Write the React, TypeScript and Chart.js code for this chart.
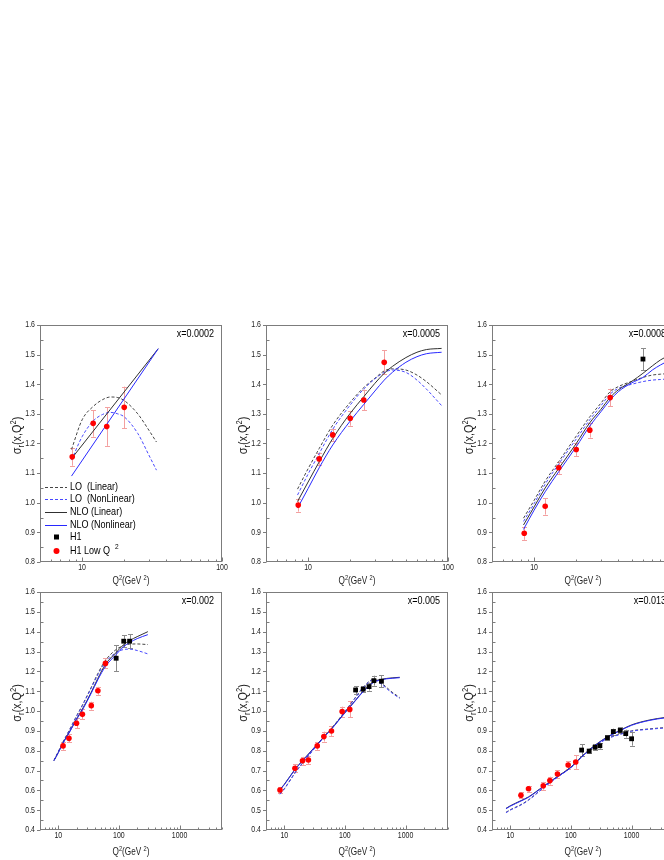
import React, { useEffect, useRef } from "react";
import { Chart, registerables } from "chart.js";
Chart.register(...registerables);

// ---------------- DATA ----------------
// Panel 1: x = 0.0002
const P1_LO_GRID = [8.4, 10, 12, 14, 16, 18, 20, 25, 30, 34];
const P1_LO_LIN = [1.18, 1.28, 1.325, 1.348, 1.357, 1.355, 1.345, 1.3, 1.245, 1.205];
const P1_LO_NON = [1.144, 1.223, 1.276, 1.298, 1.305, 1.3, 1.29, 1.234, 1.161, 1.11];
const P1_NLO_LIN_GRID = [8.6, 35];
const P1_NLO_LIN = [1.155, 1.52];
const P1_NLO_NON_GRID = [8.4, 35];
const P1_NLO_NON = [1.09, 1.52];
const P1_LOWQ_Q2 = [8.5, 12, 15, 20];
const P1_LOWQ_VAL = [1.155, 1.268, 1.257, 1.322];
const P1_LOWQ_ERR = [0.03, 0.045, 0.065, 0.07];
const P1_H1_Q2: number[] = [];
const P1_H1_VAL: number[] = [];
const P1_H1_ERR: number[] = [];

// Panel 2: x = 0.0005
const P2_GRID = [8.4, 10, 12, 15, 20, 25, 30, 35, 40, 50, 60, 70, 90];
const P2_NLO_LIN = [1.004, 1.07, 1.138, 1.217, 1.302, 1.358, 1.403, 1.437, 1.46, 1.49, 1.508, 1.517, 1.521];
const P2_NLO_NON = [0.982, 1.048, 1.118, 1.195, 1.276, 1.332, 1.377, 1.414, 1.44, 1.474, 1.493, 1.503, 1.508];
const P2_LO_LIN = [1.046, 1.115, 1.183, 1.262, 1.339, 1.389, 1.42, 1.445, 1.452, 1.448, 1.431, 1.409, 1.364];
const P2_LO_NON = [1.026, 1.097, 1.166, 1.248, 1.33, 1.384, 1.418, 1.44, 1.448, 1.44, 1.414, 1.384, 1.328];
const P2_LOWQ_Q2 = [8.5, 12, 15, 20, 25, 35];
const P2_LOWQ_VAL = [0.992, 1.148, 1.229, 1.285, 1.347, 1.474];
const P2_LOWQ_ERR = [0.022, 0.02, 0.02, 0.025, 0.035, 0.04];
const P2_H1_Q2: number[] = [];
const P2_H1_VAL: number[] = [];
const P2_H1_ERR: number[] = [];

// Panel 3: x = 0.0008
const P3_GRID = [8.4, 10, 12, 15, 20, 25, 30, 35, 40, 50, 60, 70, 80, 90];
const P3_NLO_LIN = [0.925, 0.986, 1.05, 1.116, 1.2, 1.27, 1.315, 1.356, 1.381, 1.41, 1.437, 1.462, 1.482, 1.495];
const P3_NLO_NON = [0.91, 0.975, 1.037, 1.105, 1.189, 1.259, 1.307, 1.347, 1.375, 1.405, 1.423, 1.448, 1.465, 1.478];
const P3_LO_LIN = [0.948, 1.008, 1.073, 1.139, 1.225, 1.29, 1.336, 1.375, 1.392, 1.41, 1.423, 1.431, 1.434, 1.436];
const P3_LO_NON = [0.937, 0.997, 1.063, 1.131, 1.215, 1.28, 1.327, 1.367, 1.386, 1.4, 1.409, 1.414, 1.416, 1.418];
const P3_LOWQ_Q2 = [8.5, 12, 15, 20, 25, 35];
const P3_LOWQ_VAL = [0.897, 0.988, 1.118, 1.18, 1.245, 1.355];
const P3_LOWQ_ERR = [0.022, 0.028, 0.02, 0.022, 0.025, 0.03];
const P3_H1_Q2 = [60];
const P3_H1_VAL = [1.485];
const P3_H1_ERR = [0.037];

// Panel 4: x = 0.002
const P4_GRID = [8.5, 10, 12, 15, 20, 25, 35, 45, 60, 90, 120, 150, 200, 300];
const P4_NLO_LIN = [0.75, 0.79, 0.84, 0.89, 0.96, 1.01, 1.095, 1.165, 1.235, 1.295, 1.335, 1.355, 1.375, 1.4];
const P4_NLO_NON = [0.75, 0.79, 0.838, 0.888, 0.957, 1.005, 1.09, 1.158, 1.225, 1.285, 1.325, 1.345, 1.365, 1.385];
const P4_LO_LIN = [0.752, 0.795, 0.845, 0.9, 0.975, 1.03, 1.12, 1.19, 1.255, 1.31, 1.33, 1.337, 1.338, 1.335];
const P4_LO_NON = [0.75, 0.793, 0.843, 0.898, 0.972, 1.027, 1.115, 1.183, 1.245, 1.295, 1.31, 1.312, 1.305, 1.288];
const P4_LOWQ_Q2 = [12, 15, 20, 25, 35, 45, 60];
const P4_LOWQ_VAL = [0.824, 0.862, 0.938, 0.983, 1.027, 1.102, 1.24];
const P4_LOWQ_ERR = [0.02, 0.02, 0.025, 0.025, 0.02, 0.02, 0.025];
const P4_H1_Q2 = [90, 120, 150];
const P4_H1_VAL = [1.266, 1.352, 1.352];
const P4_H1_ERR = [0.065, 0.03, 0.035];

// Panel 5: x = 0.005
const P5_GRID = [8.5, 10, 15, 20, 30, 45, 60, 90, 120, 150, 200, 300, 400, 600, 800];
const P5_NLO_LIN = [0.605, 0.63, 0.706, 0.75, 0.81, 0.87, 0.91, 0.976, 1.02, 1.055, 1.1, 1.148, 1.16, 1.167, 1.17];
const P5_NLO_NON = [0.603, 0.628, 0.704, 0.748, 0.808, 0.868, 0.908, 0.974, 1.018, 1.053, 1.098, 1.145, 1.158, 1.165, 1.168];
const P5_LO_LIN = [0.582, 0.608, 0.688, 0.738, 0.805, 0.87, 0.912, 0.98, 1.03, 1.07, 1.12, 1.16, 1.14, 1.095, 1.068];
const P5_LO_NON = [0.58, 0.606, 0.686, 0.736, 0.803, 0.868, 0.91, 0.978, 1.028, 1.068, 1.118, 1.158, 1.135, 1.09, 1.064];
const P5_LOWQ_Q2 = [8.5, 15, 20, 25, 35, 45, 60, 90, 120];
const P5_LOWQ_VAL = [0.602, 0.711, 0.749, 0.753, 0.824, 0.871, 0.899, 0.997, 1.008];
const P5_LOWQ_ERR = [0.015, 0.02, 0.02, 0.02, 0.02, 0.025, 0.025, 0.025, 0.04];
const P5_H1_Q2 = [150, 200, 250, 300, 400];
const P5_H1_VAL = [1.106, 1.11, 1.123, 1.153, 1.15];
const P5_H1_ERR = [0.02, 0.015, 0.02, 0.025, 0.03];

// Panel 6: x = 0.013
const P6_GRID = [8.5, 10, 15, 20, 35, 60, 100, 150, 250, 400, 650, 1000, 2000, 3500, 5000];
const P6_NLO_LIN = [0.509, 0.522, 0.548, 0.567, 0.62, 0.67, 0.717, 0.77, 0.828, 0.87, 0.903, 0.93, 0.955, 0.967, 0.972];
const P6_NLO_NON = [0.507, 0.52, 0.546, 0.565, 0.618, 0.668, 0.715, 0.768, 0.826, 0.868, 0.901, 0.928, 0.953, 0.965, 0.97];
const P6_LO_LIN = [0.489, 0.502, 0.528, 0.552, 0.613, 0.668, 0.717, 0.77, 0.826, 0.862, 0.884, 0.9, 0.91, 0.916, 0.918];
const P6_LO_NON = [0.487, 0.5, 0.526, 0.55, 0.611, 0.666, 0.715, 0.768, 0.824, 0.86, 0.882, 0.898, 0.908, 0.914, 0.916];
const P6_LOWQ_Q2 = [15, 20, 35, 45, 60, 90, 120];
const P6_LOWQ_VAL = [0.575, 0.608, 0.623, 0.649, 0.682, 0.728, 0.743];
const P6_LOWQ_ERR = [0.015, 0.015, 0.02, 0.02, 0.02, 0.02, 0.035];
const P6_H1_Q2 = [150, 200, 250, 300, 400, 500, 650, 800, 1000];
const P6_H1_VAL = [0.803, 0.798, 0.817, 0.825, 0.865, 0.896, 0.902, 0.886, 0.86];
const P6_H1_ERR = [0.03, 0.012, 0.015, 0.015, 0.012, 0.015, 0.015, 0.02, 0.035];

const TOP_X_TICKS = [10, 100];
const BOTTOM_X_TICKS = [10, 100, 1000];
const LEGEND_LABELS = ["LO  (Linear)", "LO  (NonLinear)", "NLO (Linear)", "NLO (Nonlinear)", "H1", "H1 Low Q"];

// ---------------- STYLE ----------------
const SANS = "'Liberation Sans', Arial, sans-serif";
const NARROW_X = 0.82;
const C_LO_LIN = "#454545";
const C_LO_NON = "#4848ff";
const C_NLO_LIN = "#303030";
const C_NLO_NON = "#2828ff";
const C_RED = "#ff0000";
const C_RED_ERR = "#f3a0a0";
const C_H1 = "#000000";
const C_H1_ERR = "#8a8a8a";
const C_FRAME = "#7c7c7c";
const C_TEXT = "#222222";
const DASH = [3, 2];

const Y_AXIS_W = 40;
const PAD_T = 12;
const PAD_R = 16;
const X_AXIS_H = 32;

type Curve = { grid: number[]; vals: number[]; color: string; dash: number[]; label: string };
type PanelDef = {
  label: string;
  L: number; T: number; R: number; B: number;
  xMin: number; xMax: number; xTicks: number[];
  yMin: number; yMax: number;
  curves: Curve[];
  lowQ2: number[]; lowVal: number[]; lowErr: number[];
  h1Q2: number[]; h1Val: number[]; h1Err: number[];
  legend: boolean;
  titleOff: number;
};

function curves(loLinG: number[], loLin: number[], loNonG: number[], loNon: number[], nloLinG: number[], nloLin: number[], nloNonG: number[], nloNon: number[]): Curve[] {
  return [
    { grid: nloNonG, vals: nloNon, color: C_NLO_NON, dash: [], label: "NLO (Nonlinear)" },
    { grid: nloLinG, vals: nloLin, color: C_NLO_LIN, dash: [], label: "NLO (Linear)" },
    { grid: loNonG, vals: loNon, color: C_LO_NON, dash: DASH, label: "LO  (NonLinear)" },
    { grid: loLinG, vals: loLin, color: C_LO_LIN, dash: DASH, label: "LO  (Linear)" },
  ];
}

const PANELS: PanelDef[] = [
  {
    label: "x=0.0002", L: 40, T: 325, R: 222, B: 562, xMin: 5, xMax: 100, xTicks: TOP_X_TICKS, yMin: 0.8, yMax: 1.6,
    curves: curves(P1_LO_GRID, P1_LO_LIN, P1_LO_GRID, P1_LO_NON, P1_NLO_LIN_GRID, P1_NLO_LIN, P1_NLO_NON_GRID, P1_NLO_NON),
    lowQ2: P1_LOWQ_Q2, lowVal: P1_LOWQ_VAL, lowErr: P1_LOWQ_ERR, h1Q2: P1_H1_Q2, h1Val: P1_H1_VAL, h1Err: P1_H1_ERR,
    legend: true, titleOff: 18,
  },
  {
    label: "x=0.0005", L: 266, T: 325, R: 448, B: 562, xMin: 5, xMax: 100, xTicks: TOP_X_TICKS, yMin: 0.8, yMax: 1.6,
    curves: curves(P2_GRID, P2_LO_LIN, P2_GRID, P2_LO_NON, P2_GRID, P2_NLO_LIN, P2_GRID, P2_NLO_NON),
    lowQ2: P2_LOWQ_Q2, lowVal: P2_LOWQ_VAL, lowErr: P2_LOWQ_ERR, h1Q2: P2_H1_Q2, h1Val: P2_H1_VAL, h1Err: P2_H1_ERR,
    legend: false, titleOff: 18,
  },
  {
    label: "x=0.0008", L: 492, T: 325, R: 674, B: 562, xMin: 5, xMax: 100, xTicks: TOP_X_TICKS, yMin: 0.8, yMax: 1.6,
    curves: curves(P3_GRID, P3_LO_LIN, P3_GRID, P3_LO_NON, P3_GRID, P3_NLO_LIN, P3_GRID, P3_NLO_NON),
    lowQ2: P3_LOWQ_Q2, lowVal: P3_LOWQ_VAL, lowErr: P3_LOWQ_ERR, h1Q2: P3_H1_Q2, h1Val: P3_H1_VAL, h1Err: P3_H1_ERR,
    legend: false, titleOff: 18,
  },
  {
    label: "x=0.002", L: 40, T: 592, R: 222, B: 830, xMin: 5, xMax: 5000, xTicks: BOTTOM_X_TICKS, yMin: 0.4, yMax: 1.6,
    curves: curves(P4_GRID, P4_LO_LIN, P4_GRID, P4_LO_NON, P4_GRID, P4_NLO_LIN, P4_GRID, P4_NLO_NON),
    lowQ2: P4_LOWQ_Q2, lowVal: P4_LOWQ_VAL, lowErr: P4_LOWQ_ERR, h1Q2: P4_H1_Q2, h1Val: P4_H1_VAL, h1Err: P4_H1_ERR,
    legend: false, titleOff: 21,
  },
  {
    label: "x=0.005", L: 266, T: 592, R: 448, B: 830, xMin: 5, xMax: 5000, xTicks: BOTTOM_X_TICKS, yMin: 0.4, yMax: 1.6,
    curves: curves(P5_GRID, P5_LO_LIN, P5_GRID, P5_LO_NON, P5_GRID, P5_NLO_LIN, P5_GRID, P5_NLO_NON),
    lowQ2: P5_LOWQ_Q2, lowVal: P5_LOWQ_VAL, lowErr: P5_LOWQ_ERR, h1Q2: P5_H1_Q2, h1Val: P5_H1_VAL, h1Err: P5_H1_ERR,
    legend: false, titleOff: 21,
  },
  {
    label: "x=0.013", L: 492, T: 592, R: 674, B: 830, xMin: 5, xMax: 5000, xTicks: BOTTOM_X_TICKS, yMin: 0.4, yMax: 1.6,
    curves: curves(P6_GRID, P6_LO_LIN, P6_GRID, P6_LO_NON, P6_GRID, P6_NLO_LIN, P6_GRID, P6_NLO_NON),
    lowQ2: P6_LOWQ_Q2, lowVal: P6_LOWQ_VAL, lowErr: P6_LOWQ_ERR, h1Q2: P6_H1_Q2, h1Val: P6_H1_VAL, h1Err: P6_H1_ERR,
    legend: false, titleOff: 21,
  },
];

// ---------------- DRAW HELPERS ----------------
type Piece = { t: string; size: number; dy: number };

// draws horizontally condensed text (the reference uses a narrow sans face)
function narrowText(ctx: CanvasRenderingContext2D, t: string, x: number, y: number, size: number, align: CanvasTextAlign, baseline: CanvasTextBaseline) {
  ctx.save();
  ctx.translate(x, y);
  ctx.scale(NARROW_X, 1);
  ctx.font = `${size}px ${SANS}`;
  ctx.textAlign = align;
  ctx.textBaseline = baseline;
  ctx.fillText(t, 0, 0);
  ctx.restore();
}

function drawPieces(ctx: CanvasRenderingContext2D, pieces: Piece[], cx: number, cy: number, sx: number) {
  ctx.save();
  ctx.translate(cx, cy);
  ctx.scale(sx, 1);
  let total = 0;
  const widths = pieces.map((p) => {
    ctx.font = `${p.size}px ${SANS}`;
    const w = ctx.measureText(p.t).width;
    total += w;
    return w;
  });
  let x = -total / 2;
  ctx.textAlign = "left";
  ctx.textBaseline = "alphabetic";
  pieces.forEach((p, i) => {
    ctx.font = `${p.size}px ${SANS}`;
    ctx.fillText(p.t, x, p.dy);
    x += widths[i];
  });
  ctx.restore();
}

function makeDeco(p: PanelDef) {
  return {
    id: "deco",
    beforeDatasetsDraw(chart: any) {
      const { ctx, scales } = chart;
      const xs = scales.x;
      const ys = scales.y;
      ctx.save();
      ctx.lineWidth = 1;
      const bars = (qs: number[], vs: number[], es: number[], color: string) => {
        ctx.strokeStyle = color;
        qs.forEach((q, i) => {
          const px = Math.round(xs.getPixelForValue(q)) + 0.5;
          const y1 = ys.getPixelForValue(vs[i] - es[i]);
          const y2 = ys.getPixelForValue(vs[i] + es[i]);
          ctx.beginPath();
          ctx.moveTo(px, y1);
          ctx.lineTo(px, y2);
          ctx.moveTo(px - 2.5, Math.round(y1) + 0.5);
          ctx.lineTo(px + 2.5, Math.round(y1) + 0.5);
          ctx.moveTo(px - 2.5, Math.round(y2) + 0.5);
          ctx.lineTo(px + 2.5, Math.round(y2) + 0.5);
          ctx.stroke();
        });
      };
      bars(p.h1Q2, p.h1Val, p.h1Err, C_H1_ERR);
      bars(p.lowQ2, p.lowVal, p.lowErr, C_RED_ERR);
      ctx.restore();
    },
    afterDraw(chart: any) {
      const { ctx, chartArea: a, scales } = chart;
      const xs = scales.x;
      const ys = scales.y;
      ctx.save();
      // frame
      ctx.strokeStyle = C_FRAME;
      ctx.lineWidth = 1;
      ctx.strokeRect(a.left + 0.5, a.top + 0.5, a.right - a.left - 1, a.bottom - a.top - 1);
      // y ticks
      ctx.beginPath();
      const nY = Math.round((p.yMax - p.yMin) / 0.1);
      for (let i = 0; i <= nY; i++) {
        const py = Math.round(ys.getPixelForValue(p.yMin + i * 0.1)) + 0.5;
        ctx.moveTo(a.left - 3, py);
        ctx.lineTo(a.left + 0.5, py);
        if (i < nY) {
          const pm = Math.round(ys.getPixelForValue(p.yMin + i * 0.1 + 0.05)) + 0.5;
          ctx.moveTo(a.left + 0.5, pm);
          ctx.lineTo(a.left + 3.5, pm);
        }
      }
      // x ticks
      const bottom = a.bottom - 0.5;
      for (let d = 0; d <= 4; d++) {
        for (let k = 1; k <= 9; k++) {
          const v = k * Math.pow(10, d);
          if (v < p.xMin || v > p.xMax) continue;
          const px = Math.round(xs.getPixelForValue(v)) + 0.5;
          const len = k === 1 ? 4 : 2;
          ctx.moveTo(px, bottom);
          ctx.lineTo(px, bottom - len);
        }
      }
      ctx.stroke();

      // tick labels from the chart scales
      ctx.fillStyle = C_TEXT;
      ys.ticks.forEach((t: any) => {
        const py = ys.getPixelForValue(t.value);
        narrowText(ctx, Number(t.value).toFixed(1), a.left - 5, py, 8.5, "right", "middle");
      });
      xs.ticks.forEach((t: any) => {
        const px = xs.getPixelForValue(t.value);
        narrowText(ctx, String(t.value), px, a.bottom + 6, 8.5, "center", "middle");
      });

      // panel label
      ctx.fillStyle = "#000";
      narrowText(ctx, p.label, a.right - 8, a.top + 9, 11, "right", "middle");

      // x title
      ctx.fillStyle = C_TEXT;
      drawPieces(
        ctx,
        [
          { t: "Q", size: 10, dy: 0 },
          { t: "2", size: 7, dy: -4 },
          { t: "(GeV ", size: 10, dy: 0 },
          { t: "2", size: 7, dy: -4 },
          { t: ")", size: 10, dy: 0 },
        ],
        (a.left + a.right) / 2,
        a.bottom + p.titleOff + 3.5,
        NARROW_X
      );

      // y title
      ctx.save();
      ctx.translate(a.left - 19, (a.top + a.bottom) / 2 - 8);
      ctx.rotate(-Math.PI / 2);
      drawPieces(
        ctx,
        [
          { t: "σ", size: 12, dy: 0 },
          { t: "r", size: 8.5, dy: 3 },
          { t: "(x,Q", size: 12, dy: 0 },
          { t: "2", size: 8.5, dy: -5 },
          { t: ")", size: 12, dy: 0 },
        ],
        0,
        0,
        0.9
      );
      ctx.restore();

      // legend
      if (p.legend) {
        const x0 = a.left + 5;
        const x1 = a.left + 27;
        const tx = a.left + 30;
        const rows = [a.top + 162, a.top + 174, a.top + 187, a.top + 200, a.top + 212, a.top + 226];
        const styles = [
          { c: C_LO_LIN, d: DASH },
          { c: C_LO_NON, d: DASH },
          { c: C_NLO_LIN, d: [] as number[] },
          { c: C_NLO_NON, d: [] as number[] },
        ];
        ctx.lineWidth = 1;
        styles.forEach((s, i) => {
          ctx.strokeStyle = s.c;
          ctx.setLineDash(s.d);
          ctx.beginPath();
          ctx.moveTo(x0, Math.round(rows[i]) + 0.5);
          ctx.lineTo(x1, Math.round(rows[i]) + 0.5);
          ctx.stroke();
        });
        ctx.setLineDash([]);
        const mx = a.left + 16.5;
        ctx.fillStyle = C_H1;
        ctx.fillRect(mx - 2.5, rows[4] - 2.5, 5, 5);
        ctx.fillStyle = C_RED;
        ctx.beginPath();
        ctx.arc(mx, rows[5], 3, 0, Math.PI * 2);
        ctx.fill();
        ctx.fillStyle = "#000";
        LEGEND_LABELS.forEach((t, i) => {
          narrowText(ctx, t, tx, rows[i], 11, "left", "middle");
        });
        ctx.font = `11px ${SANS}`;
        const w = ctx.measureText(LEGEND_LABELS[5]).width * NARROW_X;
        narrowText(ctx, "2", tx + w + 5, rows[5] - 4, 8, "left", "middle");
      }
      ctx.restore();
    },
  };
}

function PanelChart({ p }: { p: PanelDef }) {
  const ref = useRef<HTMLCanvasElement>(null);
  const W = p.R - p.L + Y_AXIS_W + PAD_R;
  const H = p.B - p.T + PAD_T + X_AXIS_H;
  useEffect(() => {
    if (!ref.current) return;
    const datasets: any[] = [];
    datasets.push({
      label: "H1 Low Q²",
      data: p.lowQ2.map((q, i) => ({ x: q, y: p.lowVal[i] })),
      showLine: false,
      pointStyle: "circle",
      pointRadius: 2.8,
      backgroundColor: C_RED,
      borderColor: C_RED,
      borderWidth: 0,
    });
    datasets.push({
      label: "H1",
      data: p.h1Q2.map((q, i) => ({ x: q, y: p.h1Val[i] })),
      showLine: false,
      pointStyle: "rect",
      pointRadius: 3.4,
      backgroundColor: C_H1,
      borderColor: C_H1,
      borderWidth: 0,
    });
    p.curves.forEach((c) => {
      datasets.push({
        label: c.label,
        data: c.grid.map((q, i) => ({ x: q, y: c.vals[i] })),
        showLine: true,
        pointRadius: 0,
        borderColor: c.color,
        backgroundColor: c.color,
        borderWidth: 1,
        borderDash: c.dash,
        cubicInterpolationMode: "monotone",
        fill: false,
      });
    });
    const chart = new Chart(ref.current, {
      type: "scatter",
      data: { datasets },
      options: {
        animation: false,
        responsive: false,
        devicePixelRatio: 1,
        events: [],
        layout: { padding: { left: 0, right: PAD_R, top: PAD_T, bottom: 0 } },
        plugins: { legend: { display: false }, tooltip: { enabled: false }, title: { display: false } },
        scales: {
          x: {
            type: "logarithmic",
            position: "bottom",
            min: p.xMin,
            max: p.xMax,
            grid: { display: false, drawTicks: false },
            border: { display: false },
            ticks: { display: false, autoSkip: false, maxRotation: 0, callback: (v: any) => String(v) },
            afterBuildTicks: (s: any) => {
              s.ticks = p.xTicks.map((v) => ({ value: v }));
            },
            afterFit: (s: any) => {
              s.height = X_AXIS_H;
            },
          },
          y: {
            type: "linear",
            position: "left",
            min: p.yMin,
            max: p.yMax,
            grid: { display: false, drawTicks: false },
            border: { display: false },
            ticks: { display: false, stepSize: 0.1, autoSkip: false, callback: (v: any) => Number(v).toFixed(1) },
            afterFit: (s: any) => {
              s.width = Y_AXIS_W;
            },
          },
        },
      },
      plugins: [makeDeco(p)],
    } as any);
    return () => chart.destroy();
  }, []);
  return (
    <canvas
      ref={ref}
      width={W}
      height={H}
      style={{ position: "absolute", left: p.L - Y_AXIS_W, top: p.T - PAD_T, width: W, height: H }}
    />
  );
}

export default function App() {
  return (
    <div style={{ position: "fixed", left: 0, top: 0, width: 664, height: 860, overflow: "hidden", background: "#fff" }}>
      {PANELS.map((p, i) => (
        <PanelChart key={i} p={p} />
      ))}
    </div>
  );
}
